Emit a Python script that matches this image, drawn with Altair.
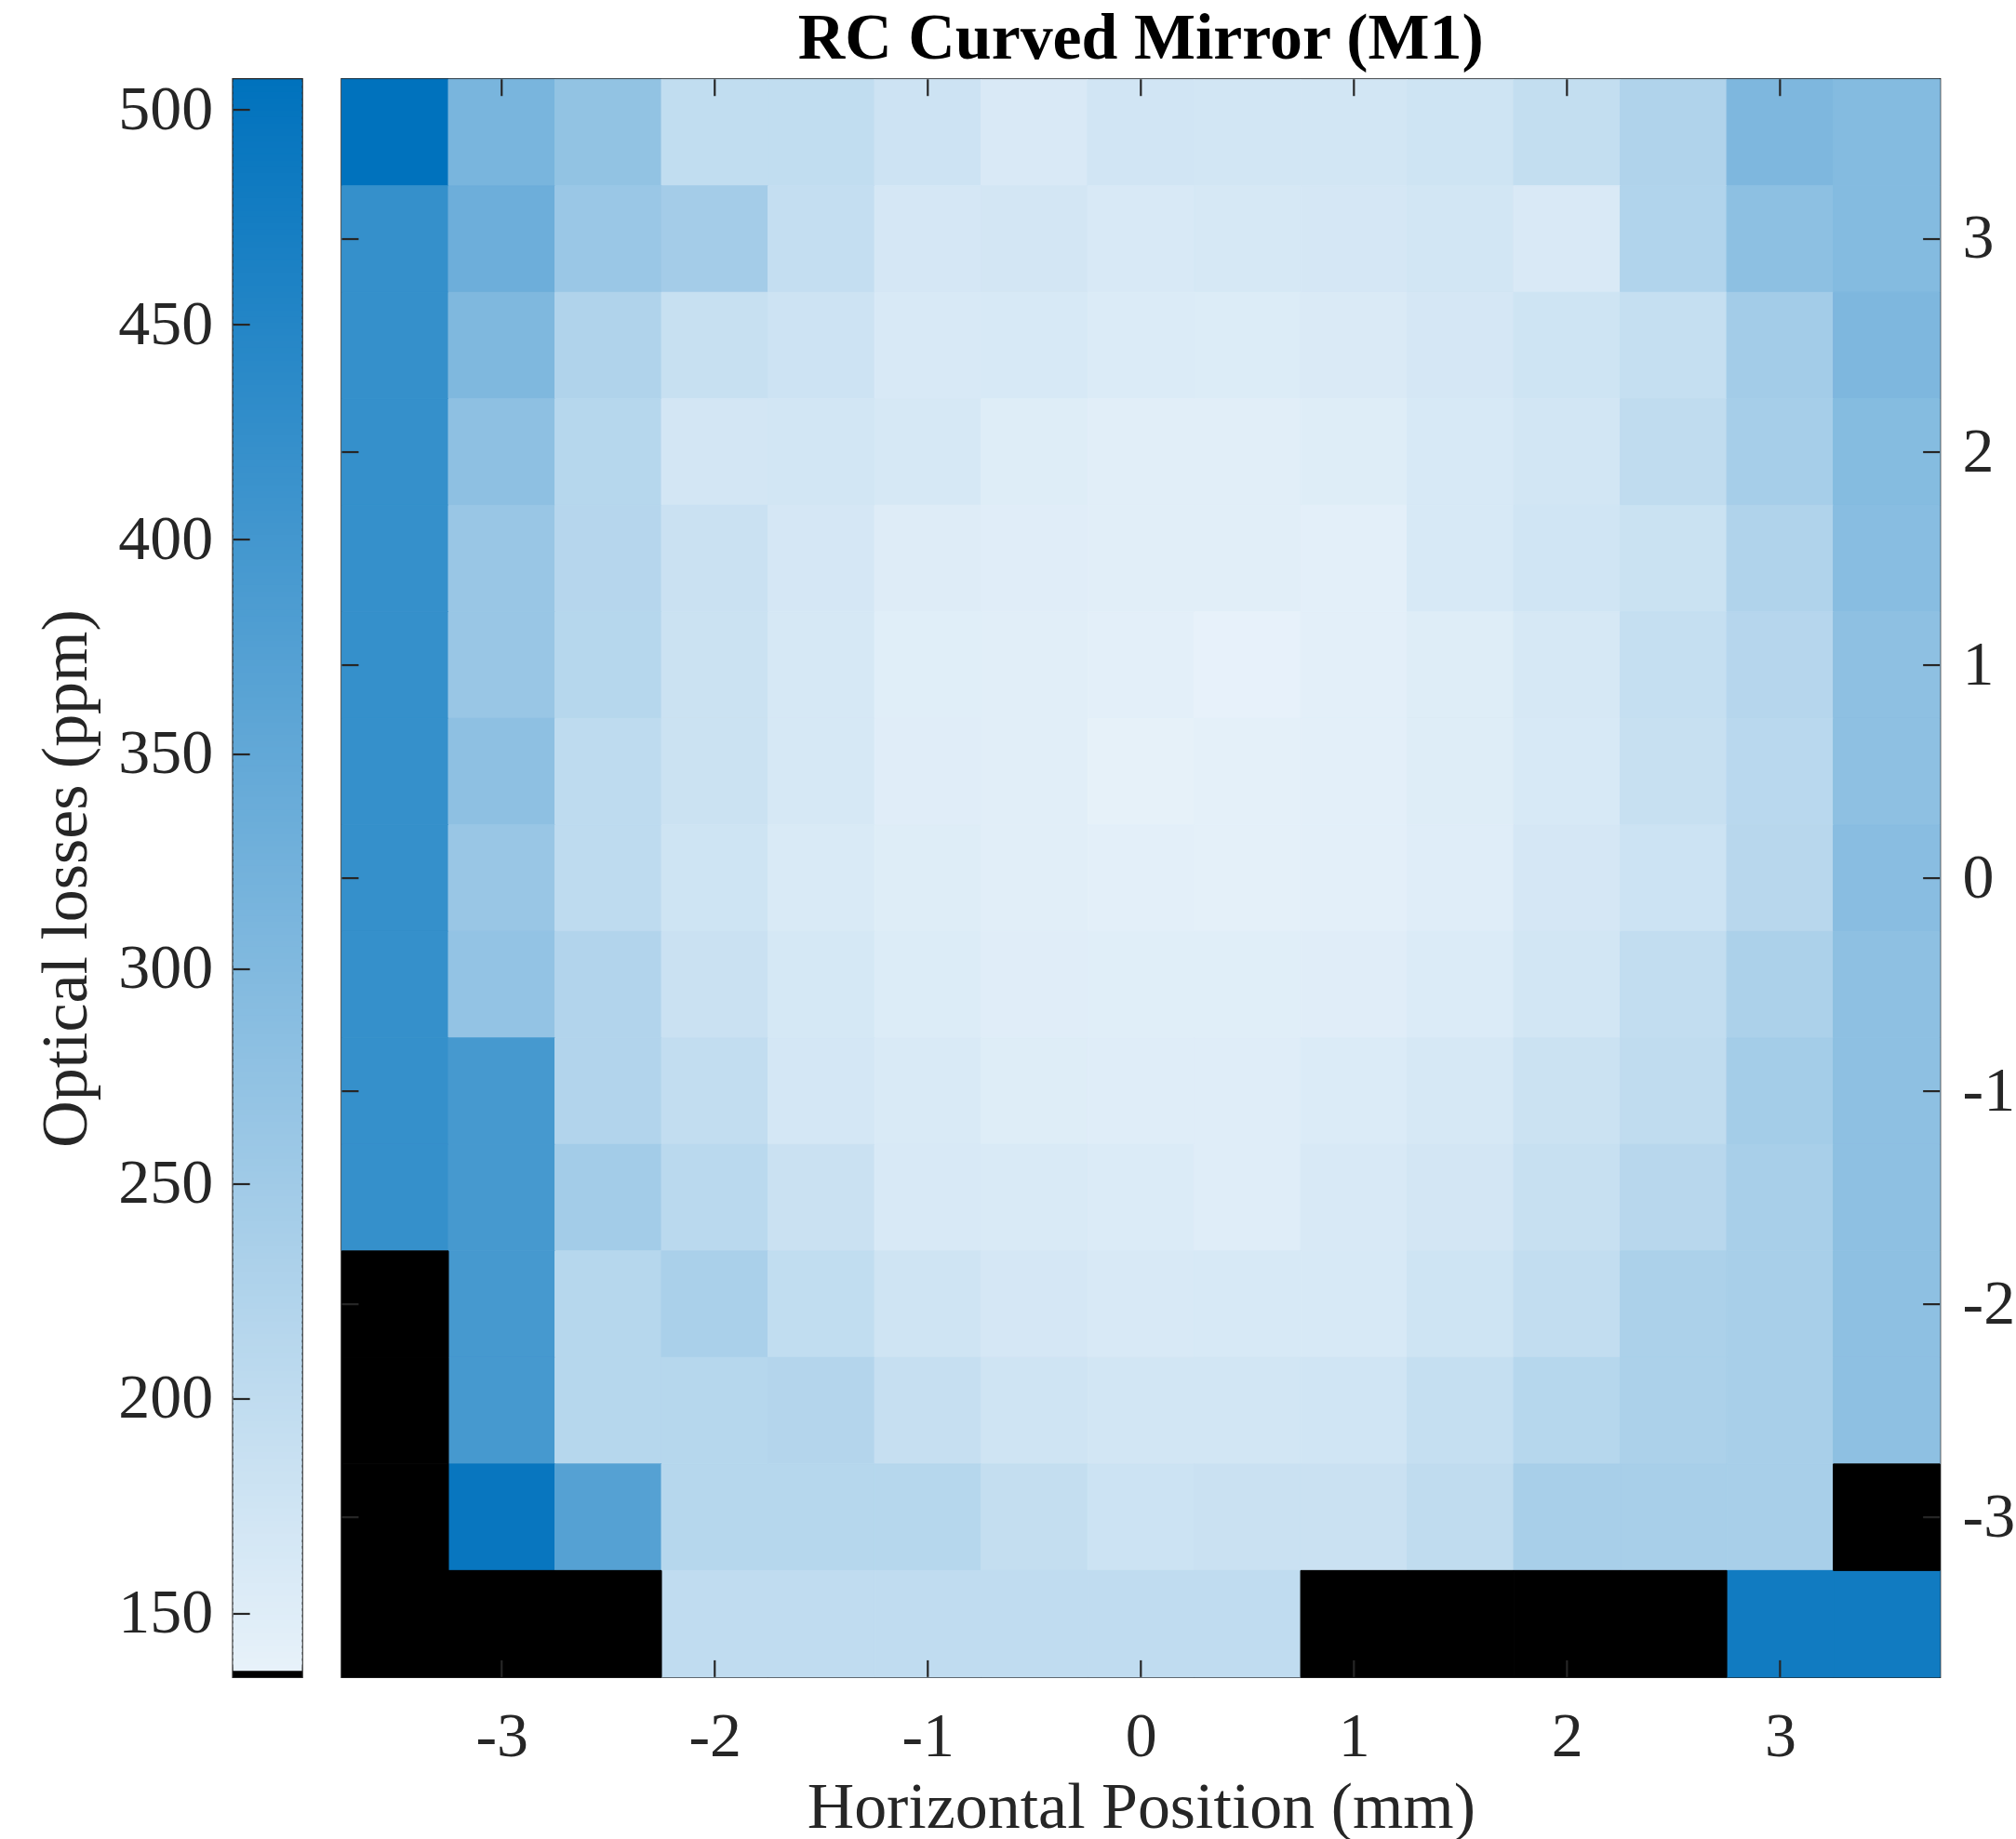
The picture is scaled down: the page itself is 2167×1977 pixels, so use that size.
import altair as alt
import numpy as np
import pandas as pd

# Beam positions on the mirror (mm); rows run from the top edge (y = 3.5) down
x_positions = [-3.5, -3.0, -2.5, -2.0, -1.5, -1.0, -0.5, 0.0, 0.5, 1.0, 1.5, 2.0, 2.5, 3.0, 3.5]
y_positions = [3.5, 3.0, 2.5, 2.0, 1.5, 1.0, 0.5, 0.0, -0.5, -1.0, -1.5, -2.0, -2.5, -3.0, -3.5]

# Optical losses (ppm) along each row, left to right; None = no valid reading
row_y_p35 = [507.1, 312.8, 273.1, 197.1, 197.1, 178.6, 160.0, 172.0, 170.6, 170.6, 176.8, 194.5, 225.4, 305.7, 295.1]
row_y_p30 = [421.4, 333.1, 259.8, 244.8, 192.7, 166.2, 169.0, 161.0, 163.6, 166.2, 170.6, 160.0, 222.7, 281.0, 296.0]
row_y_p25 = [421.4, 304.0, 225.4, 187.4, 179.0, 161.5, 161.8, 155.5, 153.8, 157.4, 166.2, 176.8, 191.8, 246.6, 305.7]
row_y_p20 = [421.4, 280.1, 214.8, 169.7, 170.6, 163.6, 151.2, 147.0, 145.9, 151.2, 161.8, 170.6, 199.8, 241.3, 293.4]
row_y_p15 = [421.4, 262.5, 215.7, 183.9, 166.2, 152.1, 148.5, 147.0, 145.9, 143.3, 161.8, 174.2, 183.0, 225.4, 289.8]
row_y_p10 = [421.4, 262.5, 214.8, 182.1, 163.6, 147.7, 145.9, 143.3, 137.1, 143.3, 151.2, 163.6, 190.9, 215.7, 280.1]
row_y_p05 = [421.4, 280.1, 203.3, 182.1, 163.6, 148.5, 145.9, 138.8, 142.4, 143.3, 151.2, 161.8, 187.4, 210.4, 280.1]
row_y_000 = [421.4, 262.5, 203.3, 176.8, 159.1, 151.2, 145.9, 142.8, 142.4, 143.3, 150.3, 166.2, 179.5, 213.0, 288.1]
row_y_m05 = [421.4, 272.2, 221.8, 183.9, 165.3, 153.8, 148.5, 147.7, 147.7, 148.5, 155.6, 170.6, 196.2, 231.6, 280.1]
row_y_m10 = [421.4, 394.9, 221.8, 196.2, 168.0, 159.1, 151.2, 149.4, 150.3, 155.6, 163.6, 182.1, 199.8, 243.7, 280.1]
row_y_m15 = [421.4, 394.9, 246.6, 208.6, 183.9, 160.9, 159.1, 155.6, 150.3, 160.9, 169.7, 187.4, 213.0, 237.7, 280.1]
row_y_m20 = [None, 394.9, 214.8, 235.1, 197.1, 175.9, 166.2, 160.5, 161.8, 161.8, 176.8, 196.2, 231.6, 237.7, 280.1]
row_y_m25 = [None, 394.9, 214.8, 214.8, 219.2, 190.1, 175.9, 170.2, 170.6, 174.2, 190.9, 214.8, 231.6, 237.7, 280.1]
row_y_m30 = [None, 494.7, 371.1, 214.8, 214.8, 214.8, 193.6, 180.3, 183.9, 183.9, 199.8, 237.7, 237.7, 237.7, None]
row_y_m35 = [None, None, None, 198.9, 198.9, 198.9, 198.9, 198.9, 198.9, None, None, None, None, 480.6, 480.6]

rows = [row_y_p35, row_y_p30, row_y_p25, row_y_p20, row_y_p15, row_y_p10, row_y_p05, row_y_000,
        row_y_m05, row_y_m10, row_y_m15, row_y_m20, row_y_m25, row_y_m30, row_y_m35]

# Axis ticks
position_ticks = [-3, -2, -1, 0, 1, 2, 3]
colorbar_ticks = [150, 200, 250, 300, 350, 400, 450, 500]

# Colour limits of the map (ppm)
C_LOW, C_HIGH = 135.3, 507.1

records = []
for y, row in zip(y_positions, rows):
    for x, v in zip(x_positions, row):
        records.append({"x": x, "y": y, "loss": v})
df = pd.DataFrame(records)

FONT = "Liberation Serif"
INK = "#262626"
PLOT = 1720
CB_W = 74
TICK_LEN = 18
TICK_W = 2.2
LABEL_SIZE = 68
TITLE_SIZE = 70

color_scale = alt.Scale(domain=[C_LOW, C_HIGH], range=["#E8F2FA", "#0072BD"], interpolate="rgb")
pos_scale = alt.Scale(domain=[-3.75, 3.75], nice=False, zero=False)

label_expr = "datum.value < 0 ? '-' + abs(datum.value) : '' + datum.value"

x_axis = alt.Axis(values=position_ticks, labelExpr=label_expr, tickSize=0, domain=False,
                  grid=False, labelPadding=31, labelFontSize=LABEL_SIZE, labelFont=FONT,
                  labelColor=INK, title="Horizontal Position (mm)", titleFont=FONT,
                  titleFontSize=TITLE_SIZE, titleFontWeight="normal", titleColor=INK,
                  titlePadding=8)
y_axis = alt.Axis(orient="right", values=position_ticks, labelExpr=label_expr, tickSize=0,
                  domain=False, grid=False, labelPadding=24, labelFontSize=LABEL_SIZE,
                  labelFont=FONT, labelColor=INK, title="")

base = alt.Chart(df).transform_calculate(
    x0="datum.x - 0.25", x1="datum.x + 0.25",
    y0="datum.y - 0.25", y1="datum.y + 0.25",
)

# Each cell is outlined in its own colour so neighbouring cells meet without seams
cells = base.transform_filter("isValid(datum.loss)").mark_rect(strokeWidth=1).encode(
    x=alt.X("x0:Q", scale=pos_scale, axis=x_axis),
    x2="x1:Q",
    y=alt.Y("y0:Q", scale=pos_scale, axis=y_axis),
    y2="y1:Q",
    color=alt.Color("loss:Q", scale=color_scale, legend=None),
    stroke=alt.Stroke("loss:Q", scale=color_scale, legend=None),
)

missing = base.transform_filter("!isValid(datum.loss)").mark_rect(
    color="black", stroke="black", strokeWidth=1).encode(
    x=alt.X("x0:Q", scale=pos_scale, axis=x_axis),
    x2="x1:Q",
    y=alt.Y("y0:Q", scale=pos_scale, axis=y_axis),
    y2="y1:Q",
)

tick_df = pd.DataFrame({"t": position_ticks})
tick_rule = alt.Chart(tick_df).mark_rule(color=INK, strokeWidth=TICK_W)
ticks_bottom = tick_rule.encode(x=alt.X("t:Q", scale=pos_scale, axis=x_axis),
                                y=alt.value(PLOT), y2=alt.value(PLOT - TICK_LEN))
ticks_top = tick_rule.encode(x=alt.X("t:Q", scale=pos_scale, axis=x_axis),
                             y=alt.value(0), y2=alt.value(TICK_LEN))
ticks_left = tick_rule.encode(y=alt.Y("t:Q", scale=pos_scale, axis=y_axis),
                              x=alt.value(0), x2=alt.value(TICK_LEN))
ticks_right = tick_rule.encode(y=alt.Y("t:Q", scale=pos_scale, axis=y_axis),
                               x=alt.value(PLOT), x2=alt.value(PLOT - TICK_LEN))

heatmap = alt.layer(cells, missing, ticks_bottom, ticks_top, ticks_left, ticks_right).properties(
    width=PLOT, height=PLOT,
    title=alt.TitleParams("RC Curved Mirror (M1)", font=FONT, fontSize=TITLE_SIZE, fontWeight="bold",
                          color="black", anchor="middle", offset=6),
)

# Colour bar: 256 levels, lowest level shown in black
edges = np.linspace(C_LOW, C_HIGH, 257)
step = edges[1] - edges[0]
cb_df = pd.DataFrame({"idx": np.arange(256), "lo": edges[:-1],
                      "hi": np.minimum(edges[1:] + 0.6 * step, C_HIGH),
                      "mid": (edges[:-1] + edges[1:]) / 2})
cb_scale = alt.Scale(domain=[C_LOW, C_HIGH], nice=False, zero=False)
cb_axis = alt.Axis(orient="left", values=colorbar_ticks, tickSize=0, domain=False, grid=False,
                   labelPadding=22, labelFontSize=LABEL_SIZE, labelFont=FONT, labelColor=INK,
                   title="Optical losses (ppm)", titleFont=FONT, titleFontSize=TITLE_SIZE,
                   titleFontWeight="normal", titleColor=INK, titlePadding=19)

cb_rects = alt.Chart(cb_df).mark_rect().encode(
    y=alt.Y("lo:Q", scale=cb_scale, axis=cb_axis),
    y2="hi:Q",
    x=alt.value(0), x2=alt.value(CB_W),
    color=alt.condition("datum.idx == 0", alt.value("black"),
                        alt.Color("mid:Q", scale=color_scale, legend=None)),
)
cb_ticks = alt.Chart(pd.DataFrame({"t": colorbar_ticks})).mark_rule(color=INK, strokeWidth=TICK_W).encode(
    y=alt.Y("t:Q", scale=cb_scale, axis=cb_axis), x=alt.value(0), x2=alt.value(TICK_LEN),
)
colorbar = alt.layer(cb_rects, cb_ticks).properties(width=CB_W, height=PLOT)

chart = alt.hconcat(colorbar, heatmap, spacing=38).resolve_scale(color="shared").properties(
    padding={"left": 35, "top": 4, "right": 0, "bottom": 0},
    background="white",
).configure_view(stroke=INK, strokeWidth=2.5)

chart.save("out.html", embed_options={"renderer": "svg", "actions": False})
